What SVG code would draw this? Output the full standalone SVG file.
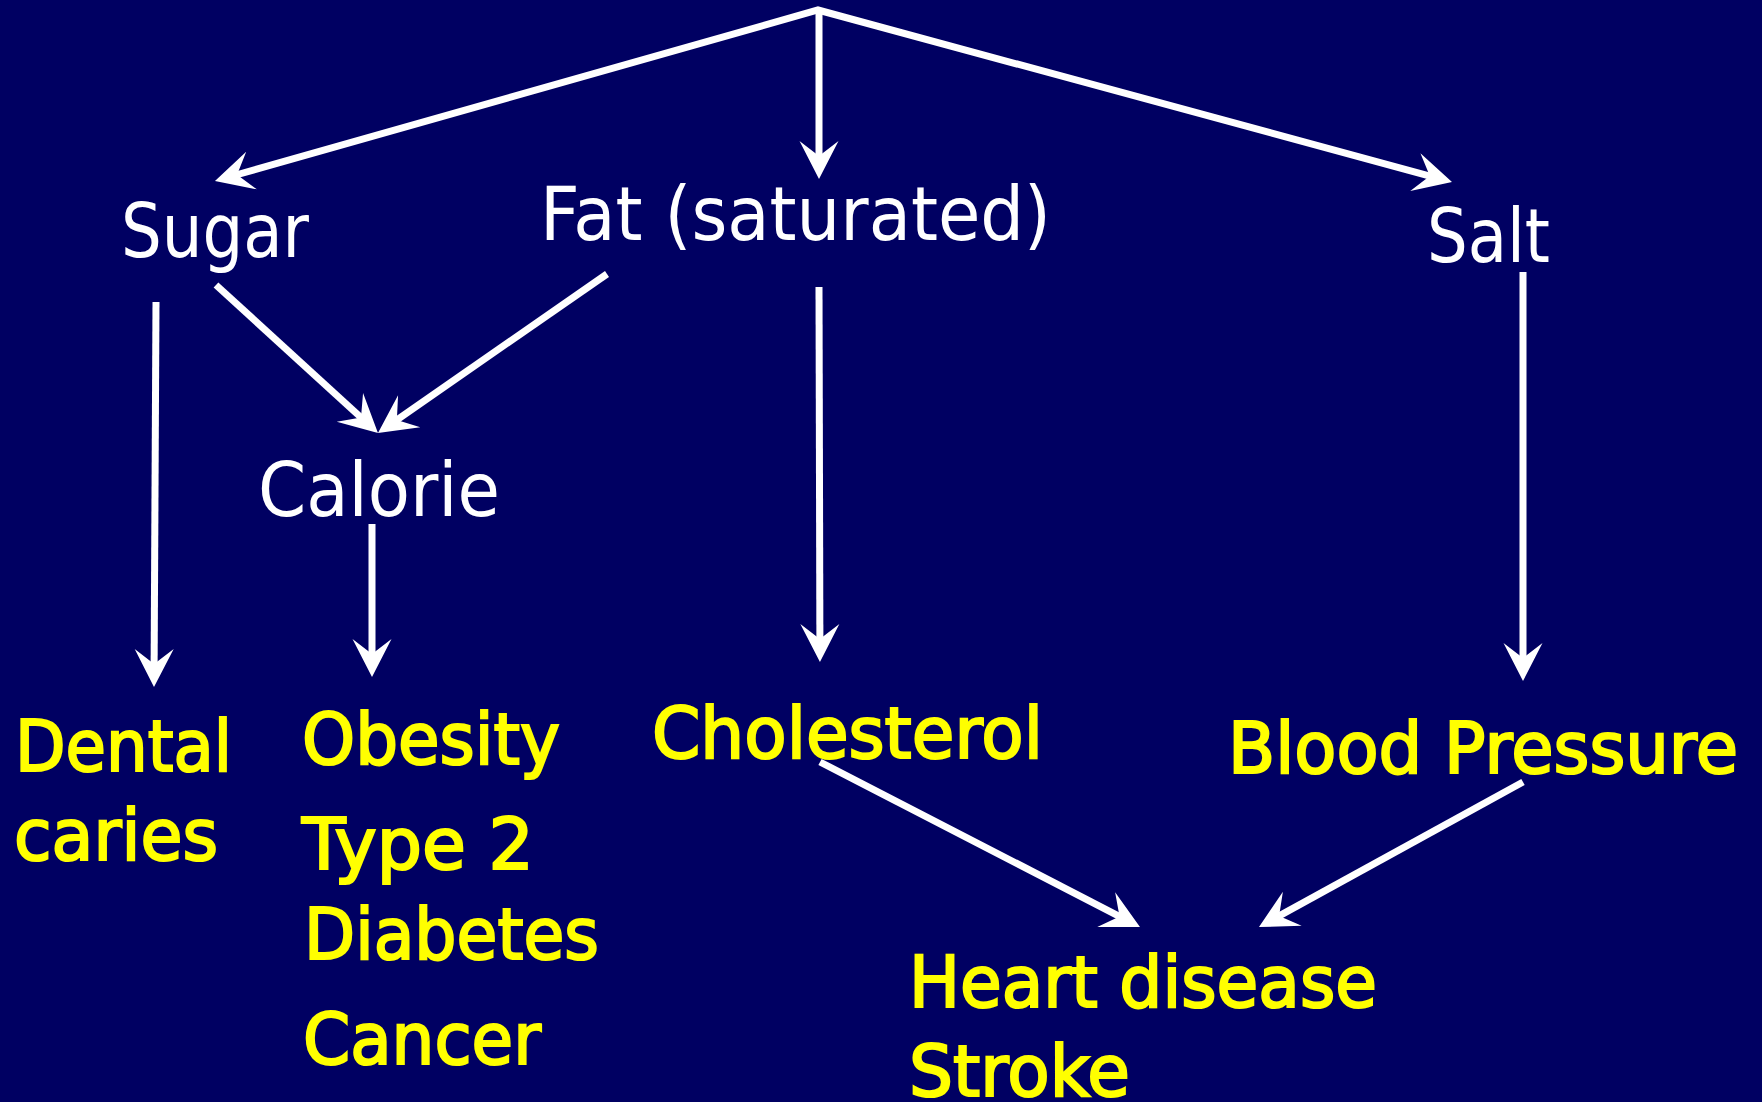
<svg xmlns="http://www.w3.org/2000/svg" width="1762" height="1102" viewBox="0 0 1762 1102">
<style>
.bg{fill:#000062}
.w{fill:#ffffff;font-family:"DejaVu Sans","Liberation Sans",sans-serif;font-size:74px}
.y{fill:#ffff00;stroke:#ffff00;stroke-width:2.2;font-family:"DejaVu Sans","Liberation Sans",sans-serif;font-size:71px}
.c{stroke:#ffffff;stroke-width:7;fill:none;stroke-linejoin:miter}
</style>
<defs>
<marker id="ah" markerUnits="userSpaceOnUse" markerWidth="60" markerHeight="60" viewBox="-30 -30 60 60" refX="0" refY="0" orient="auto-start-reverse" overflow="visible">
<path d="M20,0 L-18,-19.5 L-3,0 L-18,19.5 Z" fill="#ffffff"/>
</marker>
</defs>
<rect class="bg" x="0" y="0" width="1762" height="1102"/>
<g id="connectors">
<path class="c" d="M234.2,175.5 L818,10 L1432.7,176.8" marker-start="url(#ah)" marker-end="url(#ah)"/>
<path class="c" d="M819,10 L819,159" marker-end="url(#ah)"/>
<path class="c" d="M216,285 L363.2,419.5" marker-end="url(#ah)"/>
<path class="c" d="M607,274 L394.4,421.6" marker-end="url(#ah)"/>
<path class="c" d="M156,302 L154.1,667" marker-end="url(#ah)"/>
<path class="c" d="M372,524 L372,657" marker-end="url(#ah)"/>
<path class="c" d="M819,287 L819.9,642" marker-end="url(#ah)"/>
<path class="c" d="M1523,272 L1523,661" marker-end="url(#ah)"/>
<path class="c" d="M820,762 L1122.2,917.8" marker-end="url(#ah)"/>
<path class="c" d="M1523,782 L1276.5,917.4" marker-end="url(#ah)"/>
</g>
<g id="sugar"><text class="w" x="121" y="257" textLength="188" lengthAdjust="spacingAndGlyphs">Sugar</text></g>
<g id="fat"><text class="w" x="540" y="240" textLength="511" lengthAdjust="spacingAndGlyphs">Fat (saturated)</text></g>
<g id="salt"><text class="w" x="1427" y="262" textLength="123" lengthAdjust="spacingAndGlyphs">Salt</text></g>
<g id="calorie"><text class="w" x="258" y="516" textLength="242" lengthAdjust="spacingAndGlyphs">Calorie</text></g>
<g id="dental">
<text class="y" x="15" y="771" textLength="217" lengthAdjust="spacingAndGlyphs">Dental</text>
<text class="y" x="14" y="860" textLength="204" lengthAdjust="spacingAndGlyphs">caries</text>
</g>
<g id="obesity">
<text class="y" x="302" y="764" textLength="258" lengthAdjust="spacingAndGlyphs">Obesity</text>
<text class="y" x="302" y="869" textLength="232" lengthAdjust="spacingAndGlyphs">Type 2</text>
<text class="y" x="304" y="959" textLength="295" lengthAdjust="spacingAndGlyphs">Diabetes</text>
<text class="y" x="303" y="1064" textLength="238" lengthAdjust="spacingAndGlyphs">Cancer</text>
</g>
<g id="cholesterol"><text class="y" x="652" y="758" textLength="391" lengthAdjust="spacingAndGlyphs">Cholesterol</text></g>
<g id="bloodpressure"><text class="y" x="1228" y="773" textLength="510" lengthAdjust="spacingAndGlyphs">Blood Pressure</text></g>
<g id="heart">
<text class="y" x="909" y="1007" textLength="468" lengthAdjust="spacingAndGlyphs">Heart disease</text>
<text class="y" x="909" y="1096" textLength="221" lengthAdjust="spacingAndGlyphs">Stroke</text>
</g>
</svg>
